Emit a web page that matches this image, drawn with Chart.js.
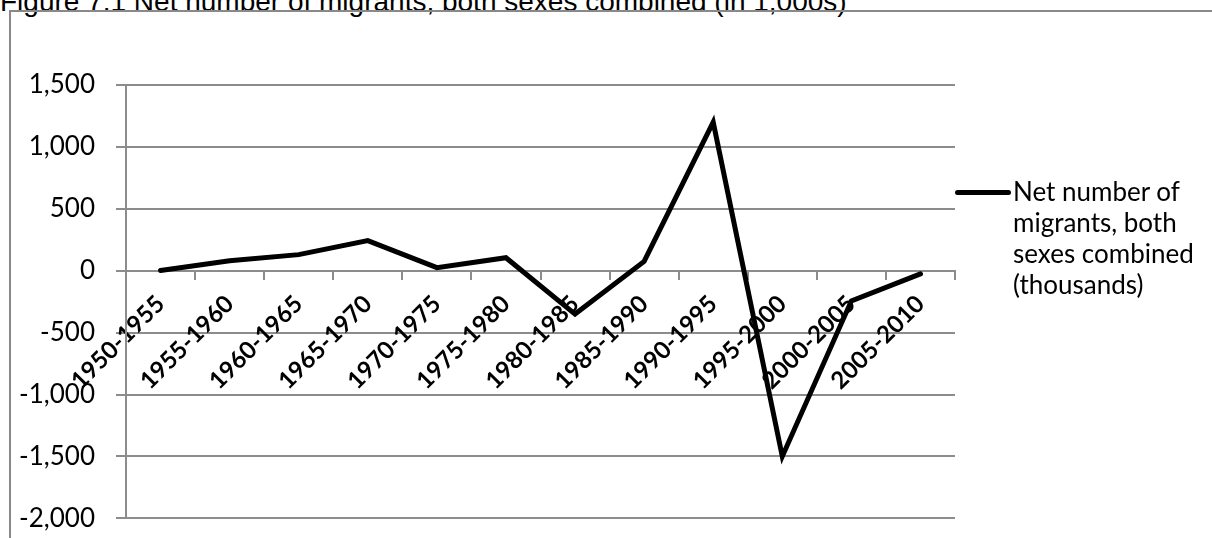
<!DOCTYPE html>
<html>
<head>
<meta charset="utf-8">
<script src="https://cdn.jsdelivr.net/npm/chart.js@4"></script>
<style>
  body { margin: 0; width: 1212px; height: 538px; overflow: hidden; background: #fff; position: relative; }
  #title { position: absolute; left: 0; top: -14px; font: 28px "Liberation Sans", Arial, sans-serif; color: #000; white-space: nowrap; }
  #frame { position: absolute; left: 9px; top: 10px; width: 1300px; height: 600px; border: 2px solid #898989; box-sizing: border-box; }
  #wrap { position: absolute; left: 0; top: 0; width: 1212px; height: 555px; }
  #legend { position: absolute; left: 955px; top: 176px; font: 26px Lato, sans-serif; color: #000; line-height: 31px; }
  #legend .swatch { position: absolute; left: 0; top: 14px; width: 56px; height: 5px; background: #000; border-radius: 3px; }
  #legend .text { margin-left: 58px; width: 190px; }
</style>
</head>
<body>
<div id="title">Figure 7.1 Net number of migrants, both sexes combined (in 1,000s)</div>
<div id="frame"></div>
<div id="wrap"><canvas id="lineChart"></canvas></div>
<div id="legend"><span class="swatch"></span><div class="text" id="legendText"></div></div>
<script>
var periods = ['1950-1955', '1955-1960', '1960-1965', '1965-1970', '1970-1975', '1975-1980',
    '1980-1985', '1985-1990', '1990-1995', '1995-2000', '2000-2005', '2005-2010'];
var netMigrants = [2, 80, 130, 243, 25, 105, -350, 75, 1200, -1500, -243, -25];
var seriesName = 'Net number of migrants, both sexes combined (thousands)';
var yMin = -2000;
var yMax = 1500;
var yStep = 500;

var gridColor = '#8c8c8c';

const config = {
    type: 'line',
    data: {
        labels: periods,
        datasets: [{
            label: seriesName,
            data: netMigrants,
            borderColor: '#000',
            borderWidth: 5,
            borderCapStyle: 'round',
            borderJoinStyle: 'miter',
            pointRadius: 0,
            tension: 0,
            fill: false
        }]
    },
    options: {
        responsive: false,
        animation: false,
        layout: { padding: { top: 85, bottom: 4, right: 257, left: 0 } },
        plugins: { legend: { display: false }, title: { display: false }, tooltip: { enabled: false } },
        scales: {
            x: {
                type: 'category',
                position: { y: 0 },
                offset: true,
                afterFit: function (scale) { scale.height = 0; },
                grid: { display: true, drawOnChartArea: false, offset: true, tickLength: 8, color: gridColor, lineWidth: 2 },
                border: { display: true, color: gridColor, width: 2 },
                ticks: {
                    autoSkip: false, minRotation: 45, maxRotation: 45, padding: 11,
                    color: '#000', font: { family: 'Lato', size: 24, weight: 'bold' }
                }
            },
            y: {
                min: yMin, max: yMax,
                afterFit: function (scale) { scale.width = 126; },
                grid: { color: gridColor, lineWidth: 2, tickLength: 10 },
                border: { display: true, color: gridColor, width: 2 },
                ticks: {
                    stepSize: yStep, padding: 21, color: '#000',
                    font: { family: 'Lato', size: 26 },
                    callback: function (v) { return v.toLocaleString('en-US'); }
                }
            }
        }
    }
};
var canvas = document.getElementById('lineChart');
canvas.width = 1212;
canvas.height = 555;
var lineChart = new Chart(canvas, config);
document.getElementById('legendText').textContent = lineChart.data.datasets[0].label;
</script>
</body>
</html>
